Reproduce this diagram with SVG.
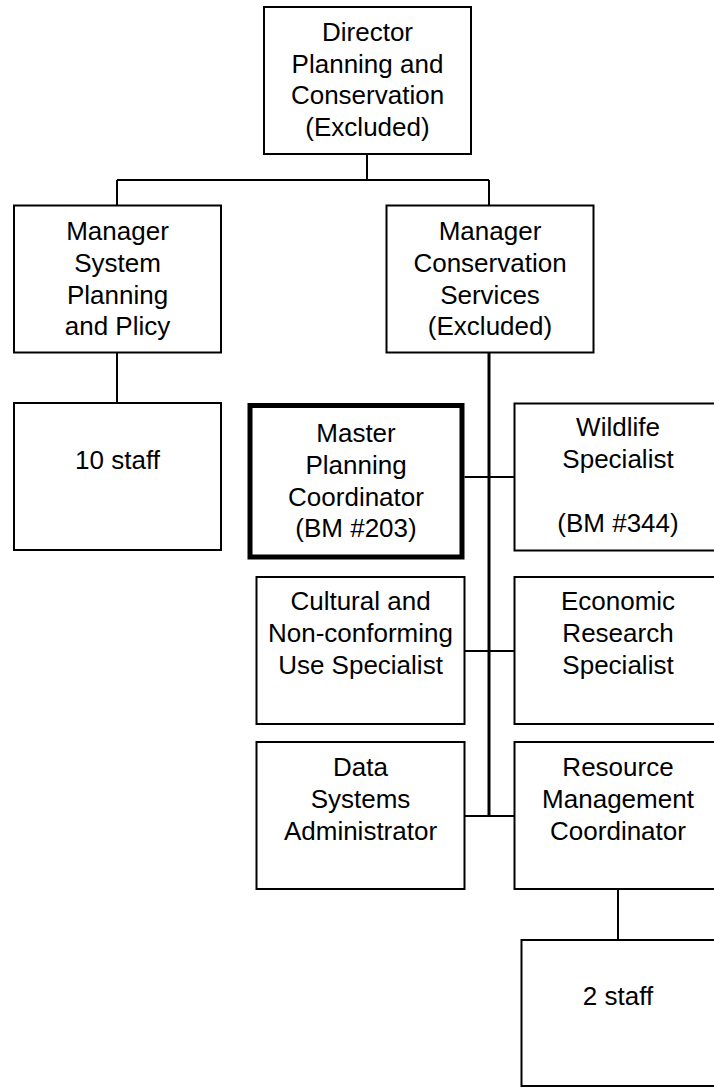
<svg xmlns="http://www.w3.org/2000/svg" width="714" height="1087" viewBox="0 0 714 1087">
<style>
.box{fill:#fff;stroke:#000;stroke-width:2}
.thick{fill:#fff;stroke:#000;stroke-width:5}
.t{font-family:"Liberation Sans",Arial,sans-serif;font-size:26px;fill:#000;text-anchor:middle}
.c{fill:none;stroke:#000;stroke-width:2}
.trunk{fill:none;stroke:#000;stroke-width:3}
</style>
<rect width="714" height="1087" fill="#fff"/>
<g id="connectors">
<path class="c" d="M367,154V180M117,180H489M117,180V205.5M489,180V205.5"/>
<path class="c" d="M117,352.5V403"/>
<path class="trunk" d="M489,352.5V816"/>
<path class="c" d="M464.5,477H514.5M464.5,651H514.5M464.5,816H514.5"/>
<path class="c" d="M618,889V940"/>
</g>
<g id="director">
<rect class="box" x="264" y="7" width="207" height="147"/>
<text class="t" x="367.5" y="41">Director</text>
<text class="t" x="367.5" y="72.5">Planning and</text>
<text class="t" x="367.5" y="104">Conservation</text>
<text class="t" x="367.5" y="135.5">(Excluded)</text>
</g>
<g id="mgr-system">
<rect class="box" x="14" y="205.5" width="207" height="147"/>
<text class="t" x="117.5" y="239.5">Manager</text>
<text class="t" x="117.5" y="271.5">System</text>
<text class="t" x="117.5" y="303.5">Planning</text>
<text class="t" x="117.5" y="335">and Plicy</text>
</g>
<g id="mgr-conservation">
<rect class="box" x="386.5" y="205.5" width="207" height="147"/>
<text class="t" x="490" y="239.5">Manager</text>
<text class="t" x="490" y="271.5">Conservation</text>
<text class="t" x="490" y="303.5">Services</text>
<text class="t" x="490" y="335">(Excluded)</text>
</g>
<g id="staff10">
<rect class="box" x="14" y="403" width="207" height="147"/>
<text class="t" x="117.5" y="468.5">10 staff</text>
</g>
<g id="master-planning">
<rect class="thick" x="250" y="405.5" width="212" height="151.5"/>
<text class="t" x="356" y="441.5">Master</text>
<text class="t" x="356" y="473.5">Planning</text>
<text class="t" x="356" y="505.5">Coordinator</text>
<text class="t" x="356" y="537">(BM #203)</text>
</g>
<g id="wildlife">
<rect class="box" x="514.5" y="403.5" width="207" height="147"/>
<text class="t" x="618" y="436">Wildlife</text>
<text class="t" x="618" y="468">Specialist</text>
<text class="t" x="618" y="532">(BM #344)</text>
</g>
<g id="cultural">
<rect class="box" x="256.5" y="577" width="208" height="147"/>
<text class="t" x="360.5" y="610">Cultural and</text>
<text class="t" x="360.5" y="642">Non-conforming</text>
<text class="t" x="360.5" y="674">Use Specialist</text>
</g>
<g id="economic">
<rect class="box" x="514.5" y="577" width="207" height="147"/>
<text class="t" x="618" y="610">Economic</text>
<text class="t" x="618" y="642">Research</text>
<text class="t" x="618" y="674">Specialist</text>
</g>
<g id="data-systems">
<rect class="box" x="256.5" y="742" width="208" height="147"/>
<text class="t" x="360.5" y="776">Data</text>
<text class="t" x="360.5" y="808">Systems</text>
<text class="t" x="360.5" y="839.5">Administrator</text>
</g>
<g id="resource">
<rect class="box" x="514.5" y="742" width="207" height="147"/>
<text class="t" x="618" y="776">Resource</text>
<text class="t" x="618" y="808">Management</text>
<text class="t" x="618" y="839.5">Coordinator</text>
</g>
<g id="staff2">
<rect class="box" x="521.5" y="940" width="200" height="146"/>
<text class="t" x="618" y="1005">2 staff</text>
</g>
</svg>
